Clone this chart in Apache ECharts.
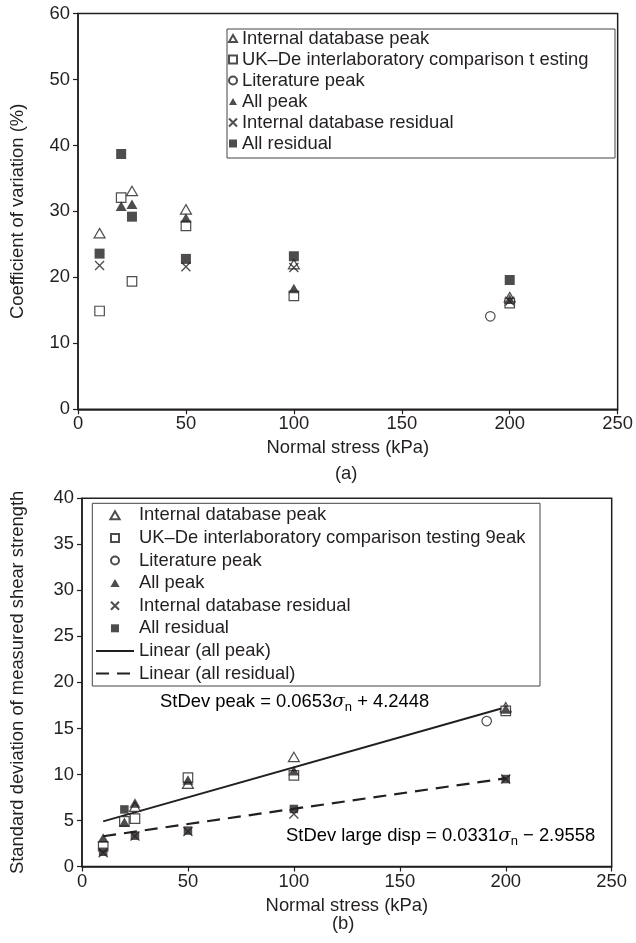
<!DOCTYPE html>
<html>
<head>
<meta charset="utf-8">
<script src="https://cdn.jsdelivr.net/npm/echarts@6/dist/echarts.min.js"></script>
<style>
html,body{margin:0;padding:0;background:#fff;}
#c{width:636px;height:943px;}
</style>
</head>
<body>
<div id="c"></div>
<script>
// ---------- data: chart (a) coefficient of variation (%) ----------
const xTicks = [0, 50, 100, 150, 200, 250];
const aIntPeak = [[10, 26.7], [25, 33.1], [50, 30.3], [100, 22.0], [200, 17.0]];
const aUKDe = [[10, 14.9], [20, 32.1], [25, 19.4], [50, 27.8], [100, 17.2], [200, 16.1]];
const aLitPeak = [[191, 14.1]];
const aAllPeak = [[20, 30.8], [25, 31.1], [50, 29.0], [100, 18.3], [200, 16.7]];
const aIntRes = [[10, 21.8], [50, 21.6], [100, 21.5], [200, 16.4]];
const aAllRes = [[10, 23.6], [20, 38.7], [25, 29.2], [50, 22.8], [100, 23.2], [200, 19.6]];

// ---------- data: chart (b) standard deviation ----------
const bIntPeak = [[25, 6.5], [50, 9.0], [100, 11.9], [200, 17.3]];
const bUKDe = [[10, 2.2], [20, 4.9], [25, 5.2], [50, 9.65], [100, 9.9], [200, 16.9]];
const bLitPeak = [[191, 15.8]];
const bAllPeak = [[10, 3.1], [20, 4.8], [25, 6.9], [50, 9.4], [100, 10.4], [200, 17.1]];
const bIntRes = [[10, 1.5], [25, 3.3], [50, 3.8], [100, 5.7], [200, 9.5]];
const bAllRes = [[10, 1.6], [20, 6.2], [25, 3.35], [50, 3.9], [100, 6.25], [200, 9.5]];
const bLinePeak = [[10, 4.9], [200, 17.3]];
const bLineRes = [[10, 3.29], [200, 9.58]];

// ---------- labels ----------
const namesA = ['Internal database peak', 'UK\u2013De interlaboratory comparison t esting', 'Literature peak', 'All peak', 'Internal database residual', 'All residual'];
const namesB = ['Internal database peak ', 'UK\u2013De interlaboratory comparison testing 9eak', 'Literature peak ', 'All peak ', 'Internal database residual ', 'All residual ', 'Linear (all peak)', 'Linear (all residual)'];
const xName = 'Normal stress (kPa)';
const yNameA = 'Coefficient of variation (%)';
const yNameB = 'Standard deviation of measured shear strength';

const INK = '#231f20';
const FONT = '"Liberation Sans", Arial, Helvetica, sans-serif';
const FS = 18.4;
const TRI = 'path://M5,0L10,8.66L0,8.66Z';
const SQR = 'path://M0,0L10,0L10,10L0,10Z';
const CIR = 'path://M5,0A5,5 0 1,1 5,10A5,5 0 1,1 5,0Z';
const XPATH = 'path://M0,0L10,10M10,0L0,10';

function openSym(sym, size) {
  return { symbol: sym, symbolSize: size, symbolKeepAspect: true, itemStyle: { color: '#fff', borderColor: INK, borderWidth: 1.2 } };
}
function fillSym(sym, size) {
  return { symbol: sym, symbolSize: size, symbolKeepAspect: true, itemStyle: { color: INK, borderColor: INK, borderWidth: 0 } };
}
function xSym(size) {
  return { symbol: XPATH, symbolSize: size, symbolKeepAspect: true, itemStyle: { color: 'rgba(0,0,0,0)', borderColor: INK, borderWidth: 1.3 } };
}
function sc(name, data, gi, sty) {
  return Object.assign({ type: 'scatter', name: name, data: data, xAxisIndex: gi, yAxisIndex: gi, z: 3 }, sty);
}

function xAxisOf(gi) {
  return {
    gridIndex: gi, type: 'value', min: 0, max: 250, interval: 50,
    name: xName, nameLocation: 'middle', nameGap: 30,
    nameTextStyle: { fontFamily: FONT, fontSize: FS, color: INK },
    axisLine: { show: true, lineStyle: { color: INK, width: 1.5 } },
    axisTick: { show: true, length: 5, lineStyle: { color: INK, width: 1.2 } },
    axisLabel: { fontFamily: FONT, fontSize: FS, color: INK, margin: 6 },
    splitLine: { show: false }
  };
}
function yAxisOf(gi, max, interval, name, gap) {
  return {
    gridIndex: gi, type: 'value', min: 0, max: max, interval: interval,
    name: name, nameLocation: 'middle', nameGap: gap,
    nameTextStyle: { fontFamily: FONT, fontSize: FS, color: INK },
    axisLine: { show: true, lineStyle: { color: INK, width: 1.5 } },
    axisTick: { show: true, length: 5, lineStyle: { color: INK, width: 1.2 } },
    axisLabel: { fontFamily: FONT, fontSize: FS, color: INK, margin: 8 },
    splitLine: { show: false }
  };
}

const eqRich = {
  a: { fontFamily: FONT, fontSize: FS, color: INK, lineHeight: 24 },
  i: { fontFamily: '"DejaVu Serif", "Liberation Serif", serif', fontStyle: 'italic', fontSize: FS, color: INK, lineHeight: 24 },
  s: { fontFamily: FONT, fontSize: 13, color: INK, lineHeight: 24, verticalAlign: 'bottom', padding: [8, 0, 0, 0] }
};

const hideDot = { color: 'rgba(0,0,0,0)', borderColor: 'rgba(0,0,0,0)', borderWidth: 0, opacity: 0 };
const legendDataB = namesB.map(function (n, i) {
  return i >= 6 ? { name: n, itemStyle: hideDot } : { name: n };
});

const chart = echarts.init(document.getElementById('c'), null, { renderer: 'canvas' });
chart.setOption({
  backgroundColor: '#fff',
  animation: false,
  grid: [
    { left: 78, top: 13.5, width: 545.5, height: 395.8, show: true, borderColor: INK, borderWidth: 1.5, backgroundColor: 'rgba(0,0,0,0)' },
    { left: 82, top: 498.3, width: 529.7, height: 368.2, show: true, borderColor: INK, borderWidth: 1.5, backgroundColor: 'rgba(0,0,0,0)' }
  ],
  xAxis: [xAxisOf(0), xAxisOf(1)],
  yAxis: [yAxisOf(0, 60, 10, yNameA, 51), yAxisOf(1, 40, 5, yNameB, 55)],
  legend: [
    {
      data: namesA, orient: 'vertical', left: 228, top: 28, padding: 0, itemGap: 0,
      itemWidth: 8, itemHeight: 8, selectedMode: false, symbolKeepAspect: true,
      textStyle: { fontFamily: FONT, fontSize: FS, color: INK, lineHeight: 21 }
    },
    {
      data: legendDataB, orient: 'vertical', left: 95, top: 504, padding: 0, itemGap: 0,
      itemWidth: 38, itemHeight: 8, selectedMode: false, symbolKeepAspect: true,
      textStyle: { fontFamily: FONT, fontSize: FS, color: INK, lineHeight: 22.6 }
    }
  ],
  graphic: [
    { type: 'rect', shape: { x: 227, y: 29, width: 388, height: 129 }, style: { fill: 'rgba(0,0,0,0)', stroke: '#444', lineWidth: 1 }, z: 1 },
    { type: 'rect', shape: { x: 92.3, y: 503.3, width: 447.7, height: 182.7 }, style: { fill: 'rgba(0,0,0,0)', stroke: '#444', lineWidth: 1 }, z: 1 },
    { type: 'text', left: 335, top: 465, style: { text: '(a)', fontFamily: FONT, fontSize: FS, fill: INK } },
    { type: 'text', left: 332, top: 915, style: { text: '(b)', fontFamily: FONT, fontSize: FS, fill: INK } },
    { type: 'text', left: 160, top: 693, style: { text: '{a|StDev peak = 0.0653}{i|\u03C3}{s|n}{a| + 4.2448}', rich: eqRich } },
    { type: 'text', left: 286, top: 827, style: { text: '{a|StDev large disp = 0.0331}{i|\u03C3}{s|n}{a| \u2212 2.9558}', rich: eqRich } }
  ],
  series: [
    sc(namesA[0], aIntPeak, 0, openSym(TRI, 11)),
    sc(namesA[1], aUKDe, 0, openSym(SQR, 9.5)),
    sc(namesA[2], aLitPeak, 0, openSym(CIR, 9.5)),
    sc(namesA[3], aAllPeak, 0, fillSym(TRI, 11)),
    sc(namesA[4], aIntRes, 0, xSym(9)),
    sc(namesA[5], aAllRes, 0, fillSym(SQR, 10)),

    sc(namesB[0], bIntPeak, 1, openSym(TRI, 11)),
    sc(namesB[1], bUKDe, 1, openSym(SQR, 9.5)),
    sc(namesB[2], bLitPeak, 1, openSym(CIR, 9.5)),
    sc(namesB[3], bAllPeak, 1, fillSym(TRI, 11)),
    sc(namesB[4], bIntRes, 1, xSym(9)),
    sc(namesB[5], bAllRes, 1, fillSym(SQR, 8.5)),
    {
      type: 'line', name: namesB[6], data: bLinePeak, xAxisIndex: 1, yAxisIndex: 1,
      symbol: 'none', showSymbol: false, itemStyle: { color: INK },
      lineStyle: { color: INK, width: 2, type: 'solid' }, z: 2
    },
    {
      type: 'line', name: namesB[7], data: bLineRes, xAxisIndex: 1, yAxisIndex: 1,
      symbol: 'none', showSymbol: false, itemStyle: { color: INK },
      lineStyle: { color: INK, width: 2.2, type: [13, 8] }, z: 2
    }
  ]
});
</script>
</body>
</html>
